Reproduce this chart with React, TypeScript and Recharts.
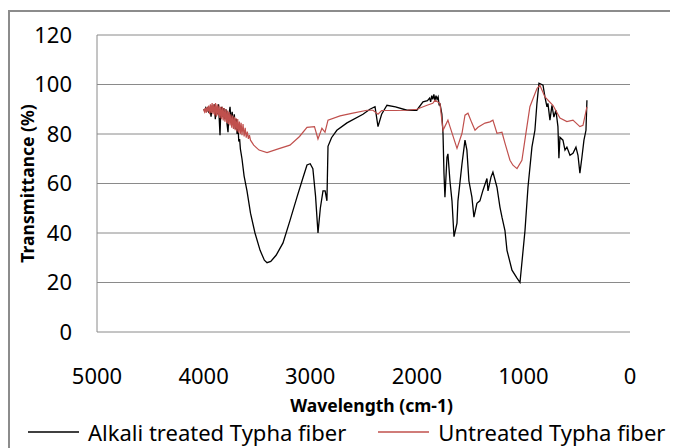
import React from 'react';
import { LineChart, Line, XAxis, YAxis, CartesianGrid, Legend } from 'recharts';

// Wavenumbers (cm-1) and transmittance (%)
const alkaliWave = [
  4000, 3990, 3980, 3970, 3960, 3950, 3940, 3930, 3920, 3910, 3900, 3890, 3880, 3870, 3860, 3850,
  3846, 3840, 3830, 3820, 3810, 3800, 3790, 3780, 3771, 3762, 3752, 3742, 3732, 3722, 3712, 3702,
  3694, 3686, 3678, 3670, 3662, 3655, 3640, 3620, 3593, 3560, 3518, 3470, 3430, 3405, 3370,
  3320, 3255, 3190, 3124, 3070, 3030, 3000, 2975, 2950, 2927, 2905, 2880, 2860, 2843, 2833, 2800,
  2750, 2655, 2505, 2440, 2392, 2364, 2330, 2280, 2200, 2092, 2000, 1942, 1900, 1880, 1870, 1860,
  1850, 1840, 1830, 1820, 1810, 1800, 1790, 1783,
  1765, 1754, 1745, 1736, 1717, 1708, 1689, 1670, 1651, 1623, 1614, 1576, 1548, 1530, 1511, 1483,
  1464, 1436, 1408, 1379, 1342, 1332, 1304, 1286, 1248, 1220, 1201, 1173, 1154, 1107, 1060, 1032,
  985, 957, 920, 892, 873, 854, 816, 798, 779, 770, 751, 732, 714, 695, 676, 667, 657, 629, 610,
  592, 563, 535, 507, 488, 470, 451, 432, 413, 404,
];
const alkaliT = [
  90, 89.5, 90.5, 89, 91, 88.5, 90, 87, 91.5, 89, 92, 86, 91, 88, 92, 83,
  79.5, 88, 91, 87, 90.5, 86, 90, 84, 80.7, 88, 91, 85, 89, 84, 88, 82,
  86, 80, 84, 77, 78, 74, 70, 63, 57, 48, 40, 33, 29, 28, 28.5,
  31, 36, 45, 54.5, 62, 67.5, 68, 66, 55, 40, 50, 57, 57, 53, 75, 78.5,
  81.5, 84.5, 88, 90, 91, 83, 88, 91.6, 91, 89.6, 89.6, 93, 93.5, 94.5, 93, 95.5,
  94, 96, 93.5, 95.5, 94, 95, 91.5, 92.4,
  88, 80, 64, 54.5, 70.6, 72, 61, 53, 38.5, 44, 53, 68, 77.5, 73.5, 61, 54.5,
  46.4, 52, 53, 57.3, 62, 57, 62.6, 64.6, 58.5, 50.5, 46.4, 41, 33, 25, 21.8, 20,
  41, 58.5, 74.7, 81.5, 92.4, 100.5, 99.7, 95, 91, 92.4, 85.6, 91.6, 86.8, 89.6, 83, 70.2, 78.7, 77.5, 73.5,
  74.7, 71.4, 72.2, 74.7, 71.4, 64.2, 70.6, 77.5, 81.5, 93.6,
];

const untreatedWave = [
  4000, 3992, 3984, 3976, 3968, 3960, 3952, 3944, 3936, 3928, 3920, 3912, 3904, 3896, 3888, 3880,
  3872, 3864, 3856, 3848, 3840, 3832, 3824, 3816, 3808, 3800, 3792, 3784, 3776, 3768, 3760, 3752,
  3744, 3736, 3728, 3720, 3712, 3704, 3696, 3688, 3680, 3672, 3664, 3656, 3648, 3640, 3630, 3620,
  3610, 3600, 3590, 3580, 3570, 3560, 3530, 3480, 3405, 3300, 3190, 3100,
  3030, 2960, 2927, 2890, 2861, 2833, 2720, 2600, 2467, 2411, 2364, 2330, 2200, 2092, 2000, 1904,
  1850, 1830, 1783, 1754, 1708, 1689, 1623, 1576, 1548, 1520, 1483, 1454, 1426, 1360, 1314, 1286,
  1248, 1201, 1173, 1126, 1098, 1060, 1014, 986, 939, 873, 845, 798, 723, 657, 592, 535, 470, 441, 404,
];
const untreatedT = [
  90, 89, 90.5, 88.5, 91, 89, 91.5, 88, 92, 88.5, 92.5, 88, 92, 87.5, 92.5, 87,
  92, 87.5, 91.5, 86.5, 91, 86, 91, 85.5, 90.5, 85, 90, 84.5, 89.5, 84, 89, 83.5,
  88, 82.5, 87.5, 82, 87, 81.5, 86.5, 81, 86, 80.5, 85, 80, 84.5, 79.5, 84, 79,
  82.5, 78.5, 81, 78, 79.5, 77.5, 75.5, 73.5, 72.5, 74, 75.5, 79,
  82.7, 83, 78, 82.3, 80.7, 85.6, 87.3, 88.4, 89.6, 89.6, 88, 89.5, 89.5, 89.6, 90, 91.6,
  92.4, 93.6, 92.4, 81.5, 85.6, 83, 74.2, 80.3, 87.6, 88.4, 84.4, 81.5, 82.7, 84.4, 84.9, 85.6,
  80.3, 80.7, 76.3, 69.4, 67.4, 66, 69.4, 77.5, 91, 98.4, 99.7, 95, 91.6, 86.4, 85, 85.6, 83, 83.5, 91,
];

const xTicks = [0, 1000, 2000, 3000, 4000, 5000];
const yTicks = [0, 20, 40, 60, 80, 100, 120];

const seriesNames = ['Alkali treated Typha fiber', 'Untreated Typha fiber'];
const seriesColors = ['#000000', '#C0504D'];

const alkaliData = alkaliWave.map((w, i) => ({ w, t: alkaliT[i] }));
const untreatedData = untreatedWave.map((w, i) => ({ w, t: untreatedT[i] }));

const font = '"Noto Sans", sans-serif';

const YTitle = ({ viewBox }: any) => {
  const cx = viewBox.x + 17;
  const cy = viewBox.y + viewBox.height / 2;
  return (
    <text
      x={cx}
      y={cy}
      transform={`rotate(-90, ${cx}, ${cy})`}
      textAnchor="middle"
      dominantBaseline="central"
      fontFamily={font}
      fontWeight="bold"
      fontSize={17.5}
      fill="#000"
    >
      Transmittance (%)
    </text>
  );
};

const LegendBox = () => (
  <div style={{ display: 'flex', alignItems: 'center', height: 28, fontFamily: font, fontSize: 22, color: '#000', whiteSpace: 'nowrap' }}>
    {seriesNames.map((name, i) => (
      <div key={name} style={{ display: 'flex', alignItems: 'center', marginLeft: i === 0 ? 18 : 32 }}>
        <svg width={51} height={4} style={{ marginRight: 9 }}>
          <line x1={0} y1={2} x2={51} y2={2} stroke={seriesColors[i]} strokeWidth={1.3} />
        </svg>
        <span>{name}</span>
      </div>
    ))}
  </div>
);

export default function App() {
  return (
    <div
      style={{
        width: 670,
        height: 440,
        marginTop: 2,
        borderTop: '2px solid #8c8c8c',
        borderLeft: '2px solid #8c8c8c',
      }}
    >
      <LineChart width={660} height={436} margin={{ top: 23, right: 40, left: 0, bottom: 20 }}>
        <CartesianGrid vertical={false} stroke="#8a8a8a" />
        <XAxis
          type="number"
          dataKey="w"
          domain={[0, 5000]}
          ticks={xTicks}
          reversed
          allowDuplicatedCategory={false}
          height={96}
          axisLine={false}
          tickLine={false}
          tickSize={0}
          tickMargin={36}
          tick={{ fontFamily: font, fontSize: 22, fill: '#000' }}
          label={{
            value: 'Wavelength (cm-1)',
            position: 'insideBottom',
            offset: 16,
            dx: 8,
            style: { fontFamily: font, fontSize: 17.5, fontWeight: 'bold', fill: '#000' },
          }}
        />
        <YAxis
          type="number"
          domain={[0, 120]}
          ticks={yTicks}
          width={87}
          axisLine={{ stroke: '#8a8a8a' }}
          tickLine={false}
          tickSize={0}
          tickMargin={25}
          tick={{ fontFamily: font, fontSize: 22, fill: '#000' }}
          label={<YTitle />}
        />
        <Legend
          verticalAlign="middle"
          align="center"
          content={<LegendBox />}
          wrapperStyle={{ top: 406, left: 0, width: 700 }}
        />
        <Line
          data={alkaliData}
          dataKey="t"
          name={seriesNames[0]}
          type="linear"
          stroke={seriesColors[0]}
          strokeWidth={1.3}
          dot={false}
          isAnimationActive={false}
        />
        <Line
          data={untreatedData}
          dataKey="t"
          name={seriesNames[1]}
          type="linear"
          stroke={seriesColors[1]}
          strokeWidth={1.2}
          dot={false}
          isAnimationActive={false}
        />
      </LineChart>
    </div>
  );
}
